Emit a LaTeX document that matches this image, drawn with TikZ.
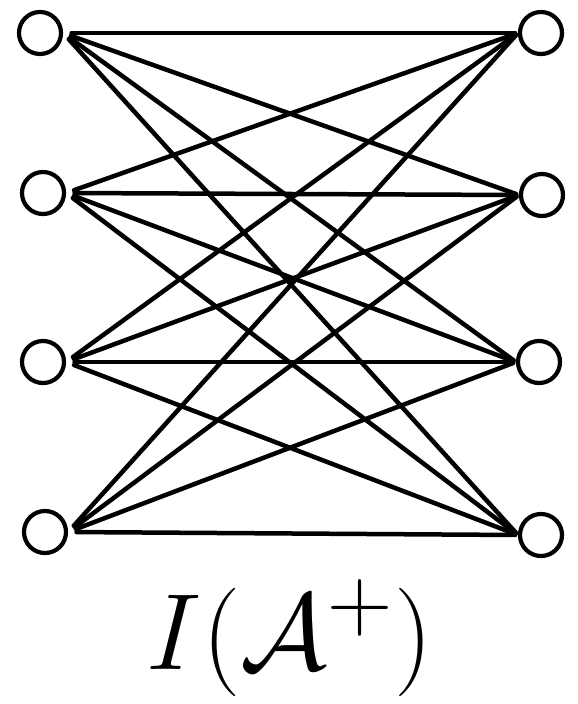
\documentclass[tikz,border=0pt]{standalone}
\usepackage{amsmath,amssymb}
\usetikzlibrary{calc}
\tikzset{
  vtx/.style={circle, draw, line width=3pt, minimum size=1.05cm, inner sep=0pt},
  edge/.style={line width=3.2pt, line cap=round},
  lbl/.style={font=\Huge, scale=3.1},
}

\begin{document}
\begin{tikzpicture}[x=0.025cm, y=-0.025cm]
  \useasboundingbox (0,0) rectangle (578,704);
  % left column
  \node[vtx] (L1) at (40,33) {};
  \node[vtx] (L2) at (43,193) {};
  \node[vtx] (L3) at (43,362) {};
  \node[vtx] (L4) at (45,532) {};
  % right column
  \node[vtx] (R1) at (541,33) {};
  \node[vtx] (R2) at (542,195) {};
  \node[vtx] (R3) at (539,362) {};
  \node[vtx] (R4) at (541,535) {};
  % every left vertex joined to every right vertex
  \foreach \i in {1,...,4}{
    \foreach \j in {1,...,4}{
      \draw[edge, shorten <=6pt, shorten >=2pt] (L\i.east) -- (R\j.west);
    }
  }
  \node[lbl] (T) at (290,638) {$I(\mathcal{A}^{+})$};
\end{tikzpicture}
\end{document}
